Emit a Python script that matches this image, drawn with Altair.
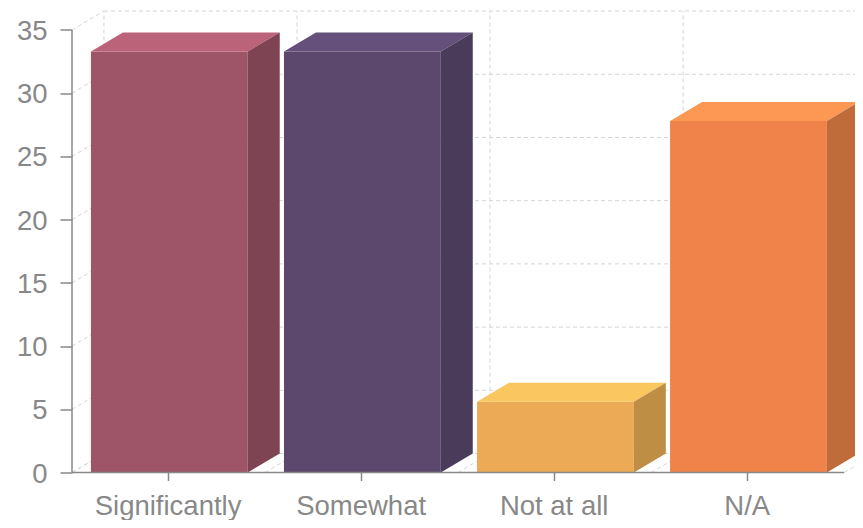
import altair as alt
import pandas as pd

categories = ["Significantly", "Somewhat", "Not at all", "N/A"]
values = [33.3, 33.3, 5.6, 27.8]
front_colors = ["#9e5568", "#5b486c", "#edaa56", "#f0834a"]
top_colors = ["#bb6378", "#64507a", "#f9c660", "#fc9853"]
side_colors = ["#7f4454", "#4a3b5a", "#bf8e45", "#c06b3a"]
y_ticks = [0, 5, 10, 15, 20, 25, 30, 35]
x_ticks = [0.495, 1.495, 2.495, 3.495]
x_walls = [0, 1, 2, 3, 4]

GAP = 0.098
BAR = 0.8124
DX = 0.1656
DY = 1.5
X_MAX = 4.056
Y_MAX = 36.62
GREY = "#888888"
GRID = "#d4d4d4"

xs = alt.Scale(domain=[0, X_MAX], nice=False, zero=False)
ys = alt.Scale(domain=[0, Y_MAX], nice=False, zero=False)

x_axis = alt.Axis(
    values=x_ticks,
    domain=False,
    grid=False,
    tickColor=GREY,
    tickSize=8,
    labelColor=GREY,
    labelFont="Liberation Sans",
    labelFontSize=27.5,
    labelPadding=12,
    labelBound=False,
    labelFlush=False,
    labelOverlap=False,
    labelExpr="[" + ",".join(repr(c) for c in categories) + "][floor(datum.value)]",
)
y_axis = alt.Axis(
    values=y_ticks,
    domain=False,
    grid=False,
    tickColor=GREY,
    tickSize=12,
    labelColor=GREY,
    labelFont="Liberation Sans",
    labelFontSize=27.5,
    labelPadding=13,
    labelOffset=1.5,
    labelBound=False,
    labelFlush=False,
    labelOverlap=False,
)


def X(field="x"):
    return alt.X(field, type="quantitative", scale=xs, title=None, axis=x_axis)


def Y(field="y"):
    return alt.Y(field, type="quantitative", scale=ys, title=None, axis=y_axis)


front, top, side = [], [], []
for i, v in enumerate(values):
    x0, x1 = i + GAP, i + GAP + BAR
    front.append(dict(x=x0, x2=x1, y=0, y2=v, c=front_colors[i]))
    for x, lo, hi in [(x0, v, v), (x0 + DX, v, v + DY), (x1, v, v + DY), (x1 + DX, v + DY, v + DY)]:
        top.append(dict(k=i, x=x, y=lo, y2=hi, c=top_colors[i]))
    for x, lo, hi in [(x1, 0, v), (x1 + DX, DY, v + DY)]:
        side.append(dict(k=i, x=x, y=lo, y2=hi, c=side_colors[i]))

dash = [4, 3]
h_grid = pd.DataFrame([dict(x=DX, x2=X_MAX, y=t + DY) for t in y_ticks])
v_grid = pd.DataFrame([dict(x=w + DX, y=DY, y2=35 + DY) for w in x_walls[:-1]])
diag = []
for n, t in enumerate(y_ticks):
    diag += [dict(k=f"w{n}", x=0, y=t), dict(k=f"w{n}", x=DX, y=t + DY)]
for w in x_walls:
    diag += [dict(k=f"f{w}", x=w, y=0), dict(k=f"f{w}", x=w + DX, y=DY)]
diag = pd.DataFrame(diag)

h_layer = alt.Chart(h_grid).mark_rule(color=GRID, strokeDash=dash, clip=True).encode(
    x=X(), x2="x2:Q", y=Y())
v_layer = alt.Chart(v_grid).mark_rule(color=GRID, strokeDash=dash, clip=True).encode(
    x=X(), y=Y(), y2="y2:Q")
d_layer = alt.Chart(diag).mark_line(color=GRID, strokeDash=dash, strokeWidth=1, clip=True).encode(
    x=X(), y=Y(), detail="k:N")

cscale = alt.Color("c:N", scale=None, legend=None)
front_layer = alt.Chart(pd.DataFrame(front)).mark_rect(clip=True).encode(
    x=X(), x2="x2:Q", y=Y(), y2="y2:Q", color=cscale)
top_layer = alt.Chart(pd.DataFrame(top)).mark_area(clip=True, orient="vertical").encode(
    x=X(), y=Y(), y2="y2:Q", color=cscale, detail="k:N")
side_layer = alt.Chart(pd.DataFrame(side)).mark_area(clip=True, orient="vertical").encode(
    x=X(), y=Y(), y2="y2:Q", color=cscale, detail="k:N")

axis_lines = pd.DataFrame([dict(x=0, x2=0, y=0, y2=35), dict(x=0, x2=4, y=0, y2=0)])
axis_layer = alt.Chart(axis_lines).mark_rule(color=GREY, strokeWidth=1.5).encode(
    x=X(), x2="x2:Q", y=Y(), y2="y2:Q")

chart = (
    alt.layer(h_layer, v_layer, d_layer, front_layer, top_layer, side_layer, axis_layer)
    .properties(
        width=783,
        height=463,
        autosize=alt.AutoSizeParams(type="none"),
        padding={"left": 64, "top": 1.5, "right": 0, "bottom": 47.5},
    )
    .configure_view(stroke=None)
    .configure_axis(tickWidth=1.5)
)

chart.save("out.html", embed_options={"renderer": "svg", "actions": False})
